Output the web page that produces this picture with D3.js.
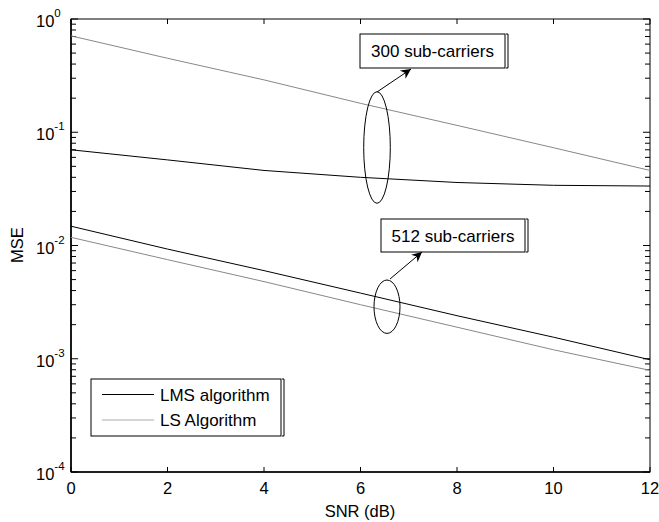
<!DOCTYPE html>
<html><head><meta charset="utf-8">
<script src="https://cdn.jsdelivr.net/npm/d3@7"></script>
<style>body{margin:0;background:#fff}svg{display:block;font-family:Arial,"Liberation Sans",sans-serif}</style>
</head><body><svg id="c" width="659" height="522"></svg>
<script>
const snr = [0, 2, 4, 6, 8, 10, 12];
const lms300 = [0.070, 0.057, 0.046, 0.040, 0.036, 0.034, 0.0335];
const ls300  = [0.71, 0.45, 0.29, 0.18, 0.115, 0.073, 0.046];
const lms512 = [0.0148, 0.0093, 0.0060, 0.0038, 0.0024, 0.00155, 0.00098];
const ls512  = [0.0118, 0.0075, 0.0048, 0.0030, 0.0019, 0.0012, 0.00079];
const xTicks = [0, 2, 4, 6, 8, 10, 12];
const yDecades = [-4, -3, -2, -1, 0];
const legendLabels = ["LMS algorithm", "LS Algorithm"];

const svg = d3.select("#c");
const L = 71, R = 650, T = 19, B = 472;
const x = d3.scaleLinear().domain([0, 12]).range([L, R]);
const y = d3.scaleLog().domain([1e-4, 1]).range([B, T]);

// ticks
const g = svg.append("g").attr("stroke", "#000").attr("stroke-width", 1);
xTicks.forEach(t => {
  g.append("line").attr("x1", x(t)).attr("x2", x(t)).attr("y1", B).attr("y2", B - 5);
  g.append("line").attr("x1", x(t)).attr("x2", x(t)).attr("y1", T).attr("y2", T + 5);
});
yDecades.forEach(d => {
  const base = Math.pow(10, d);
  g.append("line").attr("x1", L).attr("x2", L + 7).attr("y1", y(base)).attr("y2", y(base));
  g.append("line").attr("x1", R).attr("x2", R - 7).attr("y1", y(base)).attr("y2", y(base));
  if (d < 0) {
    for (let m = 2; m <= 9; m++) {
      const v = m * base;
      g.append("line").attr("x1", L).attr("x2", L + 5).attr("y1", y(v)).attr("y2", y(v));
      g.append("line").attr("x1", R).attr("x2", R - 5).attr("y1", y(v)).attr("y2", y(v));
    }
  }
});

// frame
svg.append("rect").attr("x", L).attr("y", T).attr("width", R - L).attr("height", B - T)
  .attr("fill", "none").attr("stroke", "#000").attr("stroke-width", 1);
svg.append("line").attr("x1", L).attr("x2", L).attr("y1", T).attr("y2", B).attr("stroke", "#000").attr("stroke-width", 1.6);
svg.append("line").attr("x1", L).attr("x2", R).attr("y1", B).attr("y2", B).attr("stroke", "#000").attr("stroke-width", 1.6);

// tick labels
xTicks.forEach(t => {
  svg.append("text").attr("x", x(t)).attr("y", 494).attr("text-anchor", "middle")
    .attr("font-size", 16.5).text(t);
});
yDecades.forEach(d => {
  const yy = y(Math.pow(10, d));
  const tx = svg.append("text").attr("x", 36).attr("y", yy + 8).attr("font-size", 16.5);
  tx.append("tspan").text("10");
  tx.append("tspan").attr("font-size", 11.5).attr("dy", -10).text(d);
});
svg.append("text").attr("x", 360).attr("y", 517).attr("text-anchor", "middle").attr("font-size", 16.5).text("SNR (dB)");
svg.append("text").attr("transform", "translate(23,245) rotate(-90)").attr("text-anchor", "middle").attr("font-size", 16.5).text("MSE");

// lines
const line = d3.line().x((d, i) => x(snr[i])).y(d => y(d));
const series = [[lms300, "#000"], [ls300, "#888"], [lms512, "#000"], [ls512, "#888"]];
series.forEach(([data, col]) => {
  svg.append("path").attr("d", line(data)).attr("fill", "none").attr("stroke", col).attr("stroke-width", 1);
});

// annotations
svg.append("defs").append("marker").attr("id", "ah").attr("viewBox", "0 0 10 10")
  .attr("refX", 10).attr("refY", 5).attr("markerWidth", 12).attr("markerHeight", 10)
  .attr("markerUnits", "userSpaceOnUse").attr("orient", "auto")
  .append("path").attr("d", "M0,0 L10,5 L0,10 L3,5 Z").attr("fill", "#000");

function annot(bx, by, bw, bh, label, ecx, ecy, erx, ery, ax1, ay1, ax2, ay2) {
  svg.append("rect").attr("x", bx).attr("y", by).attr("width", bw).attr("height", bh)
    .attr("fill", "#fff").attr("stroke", "#000").attr("stroke-width", 1);
  svg.append("path").attr("d", `M${bx + bw + 1},${by} h2 V${by + bh} h-2`)
    .attr("fill", "none").attr("stroke", "#000").attr("stroke-width", 1);
  svg.append("text").attr("x", bx + bw / 2).attr("y", by + bh / 2 + 6).attr("text-anchor", "middle")
    .attr("font-size", 17).text(label);
  svg.append("ellipse").attr("cx", ecx).attr("cy", ecy).attr("rx", erx).attr("ry", ery)
    .attr("fill", "none").attr("stroke", "#000").attr("stroke-width", 1);
  svg.append("line").attr("x1", ax1).attr("y1", ay1).attr("x2", ax2).attr("y2", ay2)
    .attr("stroke", "#000").attr("stroke-width", 1).attr("marker-end", "url(#ah)");
}
annot(360, 34, 145, 34, "300 sub-carriers", 377, 147.5, 13.3, 55.8, 377, 92, 411, 69);
annot(381, 219, 144, 33, "512 sub-carriers", 387, 306.7, 13, 26.7, 390, 279, 422, 252);

// legend
svg.append("rect").attr("x", 91).attr("y", 379).attr("width", 190).attr("height", 57)
  .attr("fill", "#fff").attr("stroke", "#000").attr("stroke-width", 1);
svg.append("path").attr("d", "M282,379 h2 V436 h-2").attr("fill", "none").attr("stroke", "#000");
legendLabels.forEach((lab, i) => {
  const ly = 394.5 + i * 25.5;
  svg.append("line").attr("x1", 102).attr("x2", 154).attr("y1", ly).attr("y2", ly)
    .attr("stroke", i === 0 ? "#000" : "#aaa").attr("stroke-width", 1);
  svg.append("text").attr("x", 160).attr("y", ly + 6).attr("font-size", 17).text(lab);
});
</script></body></html>
